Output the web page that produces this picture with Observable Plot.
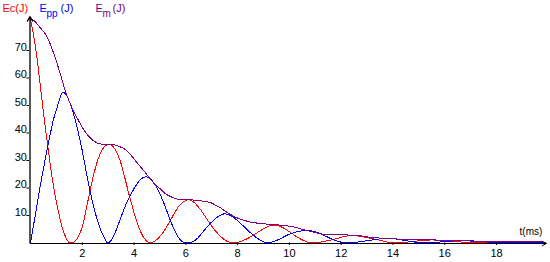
<!DOCTYPE html>
<html>
<head>
<meta charset="utf-8">
<script src="https://cdn.jsdelivr.net/npm/d3@7"></script>
<script src="https://cdn.jsdelivr.net/npm/@observablehq/plot@0.6"></script>
<style>
  html, body { margin: 0; padding: 0; background: #fff; }
  svg { display: block; }
</style>
</head>
<body>
<div id="chart"></div>
<script>
// Kinetic energy Ec (J)
const tEc = [0,0.1,0.2,0.3,0.4,0.5,0.6,0.7,0.8,0.9,1.0,1.1,1.2,1.3,1.4,1.55,
  1.7,1.8,1.9,2.0,2.1,2.2,2.3,2.4,2.5,2.6,2.7,2.8,2.9,3.03,3.15,3.29,3.4,3.5,3.6,3.7,3.8,3.9,4.0,4.1,4.2,4.3,4.4,4.5,4.62,
  4.75,4.9,5.0,5.1,5.2,5.3,5.43,5.56,5.7,5.81,5.95,6.08,6.2,6.35,6.5,6.6,6.72,6.85,7.0,7.17,7.3,7.45,7.62,7.85,
  8.1,8.4,8.6,8.8,9.0,9.15,9.3,9.45,9.6,9.8,10.0,10.2,10.4,10.6,10.85,
  11.1,11.37,11.6,11.9,12.1,12.3,12.55,12.8,13.1,13.44,13.7,14.0,
  14.5,15.0,15.5,16.0,16.5,17.1,17.5,18.0,18.6,19.2,19.9];
const ec = [81.5,76.5,70.8,63.5,55.5,47.5,40,33,26,20,15,10.5,6.5,3.5,1.3,0,
  0.5,1.5,3.4,5.8,9.8,14.5,19,23.3,27,30.2,32.6,34.4,35.4,35.8,35.4,33.7,31.5,28.8,25.3,21.6,17.8,14.4,11,8,5.3,3.2,1.6,0.6,0,
  0.4,1.4,2.4,3.6,5,6.5,8.7,10.9,13,14.2,15.2,15.7,15.5,14.5,12.9,11.7,10,8.2,6.1,4.1,2.8,1.5,0.5,0,
  0.5,1.7,2.8,4,5.2,5.9,6.4,6.5,6.2,5.3,4.1,2.8,1.6,0.7,0,
  0.2,0.6,1.1,1.8,2.3,2.6,2.6,2.3,1.8,1.1,0.5,0,
  0.3,0.8,1.1,0.9,0.5,0,0.15,0.4,0.5,0.35,0.1];

// Potential energy Epp (J)
const tEpp = [0,0.1,0.2,0.3,0.4,0.5,0.63,0.75,0.89,1.0,1.1,1.25,1.4,1.54,1.69,1.83,1.99,2.1,2.2,2.3,2.4,2.5,2.6,2.7,2.8,2.9,2.98,
  3.1,3.2,3.3,3.4,3.5,3.6,3.7,3.8,3.9,4.0,4.1,4.2,4.3,4.46,4.6,4.72,4.84,4.95,5.05,5.15,5.25,5.35,5.45,5.55,5.65,5.75,5.85,5.95,6.14,
  6.3,6.46,6.6,6.78,6.9,7.04,7.2,7.35,7.49,7.65,7.8,8.0,8.15,8.33,8.5,8.72,8.9,9.0,9.15,
  9.35,9.62,9.8,9.95,10.15,10.34,10.5,10.72,10.9,11.05,11.24,11.4,11.6,11.76,12.0,12.27,
  12.6,13.05,13.4,13.8,14.1,14.47,14.8,15.2,15.6,16.0,16.5,16.9,17.3,17.8,18.4,18.8,19.3,19.9];
const epp = [0,5.5,11,16.5,22,27,33.5,39,45,48.5,51.5,54.8,53.5,50.5,46,40.8,34,28.5,23.5,19,14.8,11,7.8,5,2.8,1.1,0,
  0.8,2.4,4.5,7,9.5,12,14.4,16.4,18.1,19.8,21.3,22.6,23.5,24.1,23.6,22.4,20.8,18.9,16.8,14.5,12,9.5,7.1,4.9,3,1.6,0.6,0.1,0,
  0.6,1.8,3.4,5.4,6.7,8,9.3,10.2,10.6,10.3,9.6,8.1,6.8,5.2,3.7,2,0.9,0.4,0,
  0.4,1.4,2.3,3,3.7,4.2,4.4,4.5,4.3,3.9,3.2,2.5,1.6,1,0.3,0,
  0.3,0.9,1.4,1.7,1.5,0.9,0.4,0,0.2,0.5,0.8,0.85,0.6,0.25,0,0.1,0.3,0.35];

// Mechanical energy Em (J)
const tEm = [0,0.15,0.31,0.45,0.57,0.76,0.95,1.15,1.34,1.54,1.79,2.12,2.33,2.5,2.65,2.9,3.1,3.29,3.45,3.62,3.78,3.94,4.1,4.26,4.4,4.52,4.65,4.78,4.9,5.04,5.2,5.43,5.6,5.81,6.1,6.46,6.72,6.98,7.1,7.3,7.49,7.68,7.88,8.07,8.27,8.5,8.79,9.1,9.43,9.75,10.08,10.35,10.6,10.8,11.0,11.24,11.5,11.9,12.3,12.66,12.9,13.18,13.5,13.8,14.2,14.73,15.2,15.6,16.0,16.5,17.0,17.5,18.0,18.5,19.0,19.5,19.9];
const em = [81.5,80.8,79,77.5,76,72.4,67.5,61.5,55.4,50.5,45.7,40.3,38,36.8,36.1,35.8,35.7,35.6,35,34.3,33,31.3,29.4,27.6,26,24.6,23,21.6,20.5,19.5,18,16.8,16.1,15.8,15.7,15.5,15.1,14.6,14,13,11.8,10.6,9.6,8.8,8.2,7.6,7.2,6.9,6.7,6.4,6,5.4,4.7,4.3,3.8,3.3,3.1,3,2.9,2.7,2.4,2.0,1.8,1.75,1.4,1.2,1.15,1.1,1.0,0.85,0.72,0.62,0.55,0.5,0.45,0.4,0.35];

const xTicks = [2,4,6,8,10,12,14,16,18];
const yTicks = [10,20,30,40,50,60,70];
const xLabel = "t(ms)";

const toRows = (ts, vs) => ts.map((t, i) => ({t, v: vs[i]}));
const ecRows = toRows(tEc, ec);
const eppRows = toRows(tEpp, epp);
const emRows = toRows(tEm, em);

const font = "'Liberation Sans', Arial, sans-serif";
const RED = "#ff0000", BLUE = "#0000ff", PURPLE = "#800080";

const legend = (text, color, dx, dy, size) =>
  Plot.text([text], {frameAnchor: "top-left", text: d => d, dx, dy, fill: color,
    fontSize: size, textAnchor: "start", lineAnchor: "top"});

const chart = Plot.plot({
  width: 550,
  height: 262,
  margin: 0,
  style: {fontFamily: font, background: "#fff", overflow: "visible"},
  x: {domain: [0, 20], range: [30, 547.8], axis: null},
  y: {domain: [0, 80], range: [242.5, 22.5], axis: null},
  marks: [
    Plot.line(ecRows, {x: "t", y: "v", stroke: RED, strokeWidth: 1, curve: "monotone-x", shapeRendering: "crispEdges"}),
    Plot.line(eppRows, {x: "t", y: "v", stroke: BLUE, strokeWidth: 1, curve: "monotone-x", shapeRendering: "crispEdges"}),
    Plot.line(emRows, {x: "t", y: "v", stroke: PURPLE, strokeWidth: 1, curve: "monotone-x", shapeRendering: "crispEdges"}),
    // axes
    Plot.arrow([{x1: 0, y1: 0, x2: 19.92, y2: 0}], {x1: "x1", y1: "y1", x2: "x2", y2: "y2",
      stroke: "#000", strokeWidth: 1, headLength: 7, headAngle: 60, dy: 0.5}),
    Plot.arrow([{x1: 0, y1: 0, x2: 0, y2: 82.3}], {x1: "x1", y1: "y1", x2: "x2", y2: "y2",
      stroke: "#000", strokeWidth: 1.3, headLength: 6, headAngle: 60, dx: -0.5}),
    Plot.ruleX(xTicks, {x: d => d, y1: 0, y2: -0.9, stroke: "#000"}),
    Plot.ruleY(yTicks, {y: d => d, x1: -0.1, x2: 0, dx: -1, stroke: "#000"}),
    Plot.text(xTicks, {x: d => d, y: 0, text: d => String(d), dy: 10, fontSize: 11, fill: "#000",
      textAnchor: "middle", lineAnchor: "middle"}),
    Plot.text(yTicks, {x: 0, y: d => d, text: d => String(d), dx: -3.5, dy: -3.5, fontSize: 11, fill: "#000",
      textAnchor: "end", lineAnchor: "middle"}),
    Plot.text([xLabel], {x: 20, y: 0, text: d => d, dx: -6, dy: -11.5, fontSize: 10, fill: "#000",
      textAnchor: "end", lineAnchor: "middle"}),
    // legend titles
    legend("Ec(J)", RED, 2, 4, 11),
    legend("E", BLUE, 39, 4, 11),
    legend("pp", BLUE, 46, 9, 10),
    legend("(J)", BLUE, 60, 4, 11),
    legend("E", PURPLE, 95, 4, 11),
    legend("m", PURPLE, 102, 9, 10),
    legend("(J)", PURPLE, 112, 4, 11)
  ]
});
document.getElementById("chart").appendChild(chart);
</script>
</body>
</html>
